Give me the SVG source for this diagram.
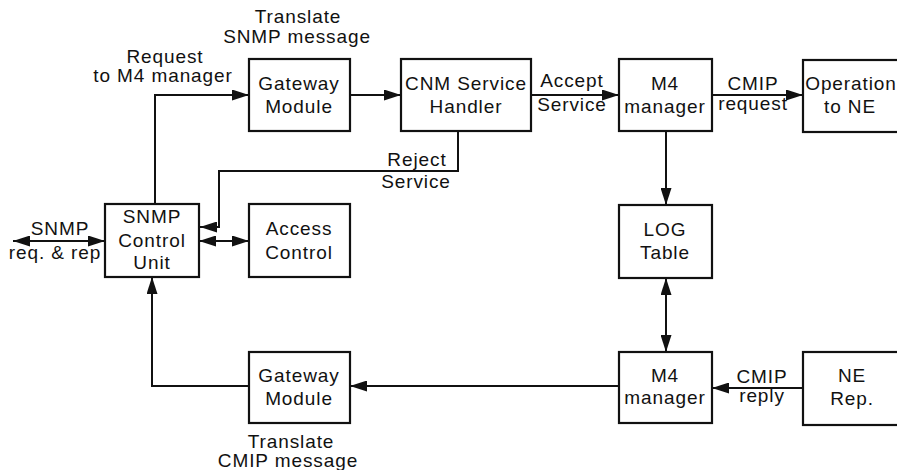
<svg xmlns="http://www.w3.org/2000/svg" width="897" height="470" viewBox="0 0 897 470">
<style>
.box{fill:#fff;stroke:#111;stroke-width:2.2}
text{font-family:"Liberation Sans",Arial,sans-serif;font-size:19px;fill:#111;text-anchor:middle;letter-spacing:0.9px}
.ln{fill:none;stroke:#111;stroke-width:2}
</style>
<defs>
<marker id="ah" markerWidth="17" markerHeight="11" refX="17" refY="5.5" orient="auto-start-reverse" markerUnits="userSpaceOnUse">
<path d="M0,0 L17,5.5 L0,11 Z" fill="#111"/>
</marker>
</defs>
<rect width="897" height="470" fill="#fff"/>

<g id="connectors">
<path class="ln" d="M155,204 V95 H249" marker-end="url(#ah)"/>
<path class="ln" d="M350,95 H401" marker-end="url(#ah)"/>
<path class="ln" d="M531,95 H619" marker-end="url(#ah)"/>
<path class="ln" d="M712,95 H803" marker-end="url(#ah)"/>
<path class="ln" d="M458,131 V171 H219 V227 H200" marker-end="url(#ah)"/>
<path class="ln" d="M666,131 V205" marker-end="url(#ah)"/>
<path class="ln" d="M666,278 V352" marker-start="url(#ah)" marker-end="url(#ah)"/>
<path class="ln" d="M13,241 H105" marker-start="url(#ah)" marker-end="url(#ah)"/>
<path class="ln" d="M199,241 H249" marker-start="url(#ah)" marker-end="url(#ah)"/>
<path class="ln" d="M803,388 H712" marker-end="url(#ah)"/>
<path class="ln" d="M619,386 H350" marker-end="url(#ah)"/>
<path class="ln" d="M249,386 H152 V277" marker-end="url(#ah)"/>
</g>

<g id="labels">
<text x="298" y="23">Translate</text>
<text x="297" y="43">SNMP message</text>
<text x="165" y="63">Request</text>
<text x="163" y="82">to M4 manager</text>
<text x="572" y="87">Accept</text>
<text x="572" y="111">Service</text>
<text x="753" y="90">CMIP</text>
<text x="753" y="110">request</text>
<text x="417" y="166">Reject</text>
<text x="416" y="188">Service</text>
<text x="60" y="235">SNMP</text>
<text x="55" y="259">req. &amp; rep</text>
<text x="762" y="383">CMIP</text>
<text x="762" y="402">reply</text>
<text x="291" y="448">Translate</text>
<text x="288" y="467">CMIP message</text>
</g>

<g id="gateway-top"><rect class="box" x="249" y="59" width="101" height="72"/><text x="299" y="90">Gateway</text><text x="299" y="113">Module</text></g>
<g id="cnm"><rect class="box" x="401" y="59" width="130" height="72"/><text x="466" y="90">CNM Service</text><text x="466" y="113">Handler</text></g>
<g id="m4-top"><rect class="box" x="619" y="59" width="93" height="72"/><text x="665" y="90">M4</text><text x="665" y="113">manager</text></g>
<g id="operation"><rect class="box" x="803" y="60" width="110" height="72"/><text x="851" y="90">Operation</text><text x="850" y="113">to NE</text></g>
<g id="snmp-control"><rect class="box" x="105" y="204" width="94" height="73"/><text x="152" y="223">SNMP</text><text x="152" y="247">Control</text><text x="152" y="269">Unit</text></g>
<g id="access-control"><rect class="box" x="249" y="204" width="101" height="73"/><text x="299" y="235">Access</text><text x="299" y="259">Control</text></g>
<g id="log-table"><rect class="box" x="619" y="205" width="93" height="73"/><text x="665" y="236">LOG</text><text x="665" y="259">Table</text></g>
<g id="gateway-bottom"><rect class="box" x="249" y="352" width="101" height="71"/><text x="299" y="382">Gateway</text><text x="299" y="405">Module</text></g>
<g id="m4-bottom"><rect class="box" x="619" y="352" width="93" height="71"/><text x="665" y="382">M4</text><text x="665" y="404">manager</text></g>
<g id="ne-rep"><rect class="box" x="803" y="352" width="110" height="73"/><text x="852" y="382">NE</text><text x="852" y="405">Rep.</text></g>
</svg>
